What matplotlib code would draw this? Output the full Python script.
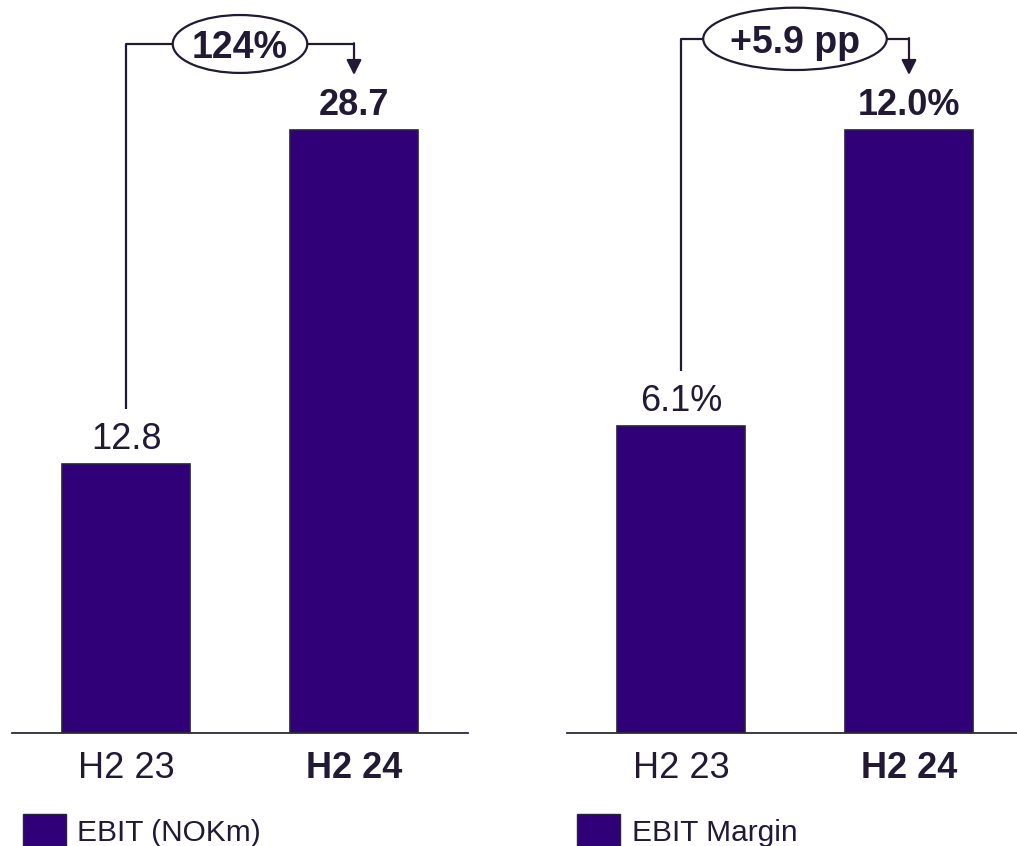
import matplotlib.pyplot as plt
from matplotlib.patches import Ellipse
from matplotlib.transforms import blended_transform_factory

plt.rcParams['font.family'] = ['Liberation Sans', 'DejaVu Sans']

periods = ['H2 23', 'H2 24']
ebit = [12.8, 28.7]
margin = [6.1, 12.0]
ebit_labels = ['12.8', '28.7']
margin_labels = ['6.1%', '12.0%']
ebit_change = '124%'
margin_change = '+5.9 pp'
legend_names = ['EBIT (NOKm)', 'EBIT Margin']

BAR = '#2f0078'
EDGE = '#2a2040'
INK = '#221a35'

fig = plt.figure(figsize=(10.17, 8.46), dpi=100)
ax_l = fig.add_axes([0.0118, 0.1336, 0.4484, 0.8664])
ax_r = fig.add_axes([0.5575, 0.1336, 0.4484, 0.8664])


def draw_panel(ax, values, labels, change, ymax, ell_w, ell_y, ell_h):
    x = [0, 1]
    ax.bar(x, values, width=0.56, color=BAR, edgecolor=EDGE, linewidth=1.2)
    ax.set_xlim(-0.5, 1.5)
    ax.set_ylim(0, ymax)
    for s in ['top', 'right', 'left']:
        ax.spines[s].set_visible(False)
    ax.spines['bottom'].set_color('#2a2a3a')
    ax.spines['bottom'].set_linewidth(1.3)
    ax.set_yticks([])
    ax.set_xticks(x)
    ax.set_xticklabels(periods, fontsize=26, color=INK)
    ax.get_xticklabels()[1].set_fontweight('bold')
    ax.tick_params(axis='x', length=0, pad=13)

    # value labels above bars
    for i, (v, t) in enumerate(zip(values, labels)):
        ax.annotate(t, (i, v), xytext=(0, 11), textcoords='offset points',
                    ha='center', va='baseline', fontsize=26, color=INK,
                    fontweight='bold' if i == 1 else 'normal')

    # change connector: up from first bar, across through ellipse, down to second bar
    tr = blended_transform_factory(ax.transData, ax.transAxes)
    px = ax.transAxes.transform((0, 1))[1] - ax.transAxes.transform((0, 0))[1]
    gap = 55 / px
    y0 = values[0] / ymax + gap
    y1 = values[1] / ymax + gap
    ax.plot([0, 0, 0.5 - ell_w / 2], [y0, ell_y, ell_y], color=INK, lw=1.6,
            transform=tr, clip_on=False, solid_capstyle='butt')
    ax.plot([0.5 + ell_w / 2, 1], [ell_y, ell_y], color=INK, lw=1.6,
            transform=tr, clip_on=False, solid_capstyle='butt')
    ax.annotate('', xy=(1, y1), xytext=(1, ell_y + 0.001), xycoords=tr, textcoords=tr,
                arrowprops=dict(arrowstyle='-|>,head_length=0.9,head_width=0.45',
                                color=INK, lw=1.6, shrinkA=0, shrinkB=0))
    ax.add_patch(Ellipse((0.5, ell_y), ell_w, ell_h, transform=tr, facecolor='white',
                         edgecolor=INK, lw=1.6, clip_on=False, zorder=3))
    ax.text(0.5, ell_y, change, transform=tr, ha='center', va='center_baseline',
            fontsize=27, fontweight='bold', color=INK, zorder=4)


draw_panel(ax_l, ebit, ebit_labels, ebit_change, 28.7 * 733 / 603,
           0.59, 0.94, 0.079)
draw_panel(ax_r, margin, margin_labels, margin_change, 12.0 * 733 / 603,
           0.805, 0.947, 0.085)

# legend swatches and names along the bottom edge
for sx, tx, name in [(23, 77, legend_names[0]), (577, 632, legend_names[1])]:
    fig.patches.append(plt.Rectangle((sx / 1017, 0), 43 / 1017, 32 / 846,
                                     transform=fig.transFigure, facecolor=BAR,
                                     edgecolor=EDGE, lw=1.0))
    fig.text(tx / 1017, (846 - 841) / 846, name, fontsize=21.5, color=INK,
             ha='left', va='baseline')

fig.savefig('out.png', dpi=100)
